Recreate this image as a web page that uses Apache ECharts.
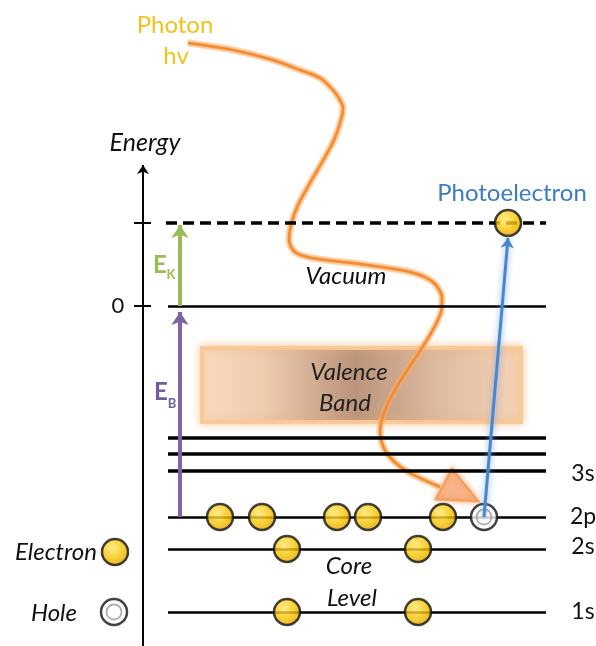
<!DOCTYPE html>
<html>
<head>
<meta charset="utf-8">
<script src="https://cdn.jsdelivr.net/npm/echarts@6/dist/echarts.min.js"></script>
<style>html,body{margin:0;padding:0;background:#fff}#c{width:596px;height:646px}</style>
</head>
<body>
<div id="c"></div>
<script>
// ---- Data (x = horizontal position, E = energy, arbitrary units; 0 = vacuum level) ----
const kineticLevel = 83;                 // dashed line, photoelectron energy
const vacuumLevel = 0;                   // "0" line
const valenceBandE = [-42, -116];        // top, bottom of valence band
const valenceBandX = [202, 521];
const shallowLevels = [-132, -148, -165];// three lines above 2p (last is 3s)
const coreLevels = [-211, -243, -306];   // 2p, 2s, 1s
const levelNames = ['3s', '2p', '2s', '1s'];
const levelNameE = [-168, -211, -241, -306];
const levelX = [168, 546];
const electrons2p = [220, 262, 337, 368, 443];
const hole2p = 484;
const electrons2s = [287, 418];
const electrons1s = [287, 418];
const photoelectronX = 508;
const axisX = 143;
const axisRange = [-340, 141];
const axisTicks = [83, 0];
const axisTickLabels = ['', '0'];
const arrowX = 180;
const photonPath = [[188,263],[233,256],[273,246],[300,236],[320,228],[333,216],[340,206],[343,198],[341,186],[334,166],[325,149],[310,123],[298,101],[291,81],[289,66],[295,54],[312,48],[360,42],[410,34],[433,24],[442,8],[441,-6],[430,-29],[412,-57],[396,-82],[385,-104],[380,-126],[386,-146],[405,-164],[440,-181]];
const photonHead = [[452,-163],[436,-193],[478,-195]];
const legendElectron = [115, -246];
const legendHole = [114, -306];

// annotations: [text, x, E, color, italic, size, align, weight]
const annotations = [
  ['Photon', 175, 281, '#f2c21a', false, 24, 'center', 'normal'],
  ['hv', 176, 250, '#f2c21a', false, 24, 'center', 'normal'],
  ['Energy', 145, 163, '#111', true, 25, 'center', 'normal'],
  ['Photoelectron', 512, 113, '#3a7dc4', false, 24, 'center', 'normal'],
  ['Vacuum', 346, 30, '#111', true, 24, 'center', 'normal'],
  ['Valence', 349, -66, '#222', true, 24, 'center', 'normal'],
  ['Band', 345, -97, '#222', true, 24, 'center', 'normal'],
  ['Core', 349, -260, '#111', true, 24, 'center', 'normal'],
  ['Level', 352, -292, '#111', true, 24, 'center', 'normal'],
  ['Electron', 97, -246, '#111', true, 24, 'right', 'normal'],
  ['Hole', 77, -307, '#111', true, 24, 'right', 'normal'],
  ['E', 160, 41, '#9bbb59', false, 24, 'center', 'bold'],
  ['K', 171, 31, '#9bbb59', false, 13, 'center', 'bold'],
  ['E', 161, -86, '#6f5c9c', false, 24, 'center', 'bold'],
  ['B', 172, -98, '#6f5c9c', false, 13, 'center', 'bold'],
  ['0', 118, 0, '#111', false, 22, 'center', 'normal']
];
levelNames.forEach((n, i) => annotations.push([n, 583, levelNameE[i], '#111', false, 23, 'center', 'normal']));

const FONT = 'Lato, "Open Sans", sans-serif';

const electronStyle = {
  color: {type: 'radial', x: 0.4, y: 0.35, r: 0.7, colorStops: [
    {offset: 0, color: '#ffe56a'}, {offset: 0.55, color: '#f7c400'}, {offset: 1, color: '#d99800'}]},
  borderColor: '#111', borderWidth: 2.5
};

const electronPts = []
  .concat(electrons2p.map(x => [x, coreLevels[0]]))
  .concat(electrons2s.map(x => [x, coreLevels[1]]))
  .concat(electrons1s.map(x => [x, coreLevels[2]]))
  .concat([[photoelectronX, kineticLevel], legendElectron]);
const holePts = [[hole2p, coreLevels[0]], legendHole];

const solidLines = [];
solidLines.push({coords: [[levelX[0], vacuumLevel], [levelX[1], vacuumLevel]], lineStyle: {width: 2.5}});
shallowLevels.forEach(e => solidLines.push({coords: [[levelX[0], e], [levelX[1], e]], lineStyle: {width: 3.5}}));
coreLevels.forEach(e => solidLines.push({coords: [[levelX[0], e], [levelX[1], e]], lineStyle: {width: 2.5}}));
axisTicks.forEach(e => solidLines.push({coords: [[axisX - 9, e], [axisX + 8, e]], lineStyle: {width: 2}}));

const chart = echarts.init(document.getElementById('c'), null, {renderer: 'canvas'});
chart.setOption({
  backgroundColor: '#fff',
  animation: false,
  grid: {left: 0, right: 0, top: 0, bottom: 0},
  xAxis: {type: 'value', min: 0, max: 596, show: false},
  yAxis: {type: 'value', min: -340, max: 306, show: false},
  series: [
    { // valence band
      type: 'custom', z: 1,
      data: [[valenceBandX[0], valenceBandE[0], valenceBandX[1], valenceBandE[1]]],
      renderItem: function (params, api) {
        const p1 = api.coord([api.value(0), api.value(1)]);
        const p2 = api.coord([api.value(2), api.value(3)]);
        return {type: 'rect', shape: {x: p1[0], y: p1[1], width: p2[0] - p1[0], height: p2[1] - p1[1]},
          style: {
            fill: {type: 'linear', x: 0, y: 0, x2: 1, y2: 0, colorStops: [
              {offset: 0, color: '#f9dbc1'}, {offset: 0.2, color: '#efcbae'}, {offset: 0.48, color: '#bb947b'},
              {offset: 0.75, color: '#e0bca1'}, {offset: 1, color: '#f6d3b6'}]},
            stroke: 'rgba(248,200,150,0.95)', lineWidth: 4, shadowBlur: 10, shadowColor: 'rgba(245,175,110,0.6)'}};
      }
    },
    { // photon glow
      type: 'line', z: 2, data: photonPath, smooth: 0.3, symbol: 'none',
      lineStyle: {color: 'rgba(250,185,120,0.5)', width: 7}
    },
    { // photon
      type: 'line', z: 2, data: photonPath, smooth: 0.3, symbol: 'none',
      lineStyle: {color: '#f38b30', width: 2.5, shadowBlur: 3, shadowColor: 'rgba(247,150,70,0.9)'}
    },
    { // photon arrow head
      type: 'custom', z: 2, data: [photonHead.flat()],
      renderItem: function (params, api) {
        const pts = [];
        for (let i = 0; i < 3; i++) pts.push(api.coord([api.value(2 * i), api.value(2 * i + 1)]));
        return {type: 'polygon', shape: {points: pts},
          style: {fill: '#f8b48a', stroke: '#f5a060', lineWidth: 2.5, shadowBlur: 6, shadowColor: 'rgba(247,150,70,0.7)'}};
      }
    },
    { // solid level lines & ticks
      type: 'lines', coordinateSystem: 'cartesian2d', z: 3, polyline: false,
      lineStyle: {color: '#000', opacity: 1}, data: solidLines
    },
    { // dashed level
      type: 'lines', coordinateSystem: 'cartesian2d', z: 3,
      lineStyle: {color: '#000', width: 3.5, type: [11, 6], opacity: 1},
      data: [{coords: [[166, kineticLevel], [levelX[1], kineticLevel]]}]
    },
    { // energy axis
      type: 'lines', coordinateSystem: 'cartesian2d', z: 3, symbol: ['none', 'arrow'], symbolSize: 9,
      lineStyle: {color: '#000', width: 2, opacity: 1},
      data: [{coords: [[axisX, axisRange[0]], [axisX, axisRange[1]]]}]
    },
    { // E_B arrow
      type: 'lines', coordinateSystem: 'cartesian2d', z: 4, symbol: ['none', 'arrow'], symbolSize: 13,
      lineStyle: {color: '#8064a2', width: 4, opacity: 1},
      data: [{coords: [[arrowX, coreLevels[0]], [arrowX, vacuumLevel - 6]]}]
    },
    { // E_K arrow
      type: 'lines', coordinateSystem: 'cartesian2d', z: 4, symbol: ['none', 'arrow'], symbolSize: 13,
      lineStyle: {color: '#9bbb59', width: 4, opacity: 1},
      data: [{coords: [[arrowX, vacuumLevel], [arrowX, kineticLevel - 2]]}]
    },
    { // electrons
      type: 'scatter', z: 5, symbolSize: 26, data: electronPts, itemStyle: electronStyle
    },
    { // holes
      type: 'scatter', z: 5, symbolSize: 26, data: holePts,
      itemStyle: {color: '#fff', borderColor: '#111', borderWidth: 2.5}
    },
    { // hole inner ring
      type: 'scatter', z: 5, symbolSize: 15, data: holePts,
      itemStyle: {color: 'rgba(0,0,0,0)', borderColor: '#9a9a9a', borderWidth: 1.8}
    },
    { // photoelectron arrow
      type: 'lines', coordinateSystem: 'cartesian2d', z: 6, symbol: ['none', 'arrow'], symbolSize: 10,
      lineStyle: {color: '#4a86d0', width: 3, opacity: 1, shadowBlur: 6, shadowColor: 'rgba(110,165,230,0.9)'},
      data: [{coords: [[hole2p, coreLevels[0]], [photoelectronX, kineticLevel - 15]]}]
    },
    { // texts
      type: 'custom', z: 7, data: annotations.map((a, i) => [a[1], a[2], i]),
      renderItem: function (params, api) {
        const a = annotations[api.value(2)];
        const p = api.coord([api.value(0), api.value(1)]);
        return {type: 'text', x: p[0], y: p[1],
          style: {text: a[0], fill: a[3], font: (a[4] ? 'italic ' : '') + a[7] + ' ' + a[5] + 'px ' + FONT,
            align: a[6], verticalAlign: 'middle'}};
      }
    }
  ]
});
</script>
</body>
</html>
